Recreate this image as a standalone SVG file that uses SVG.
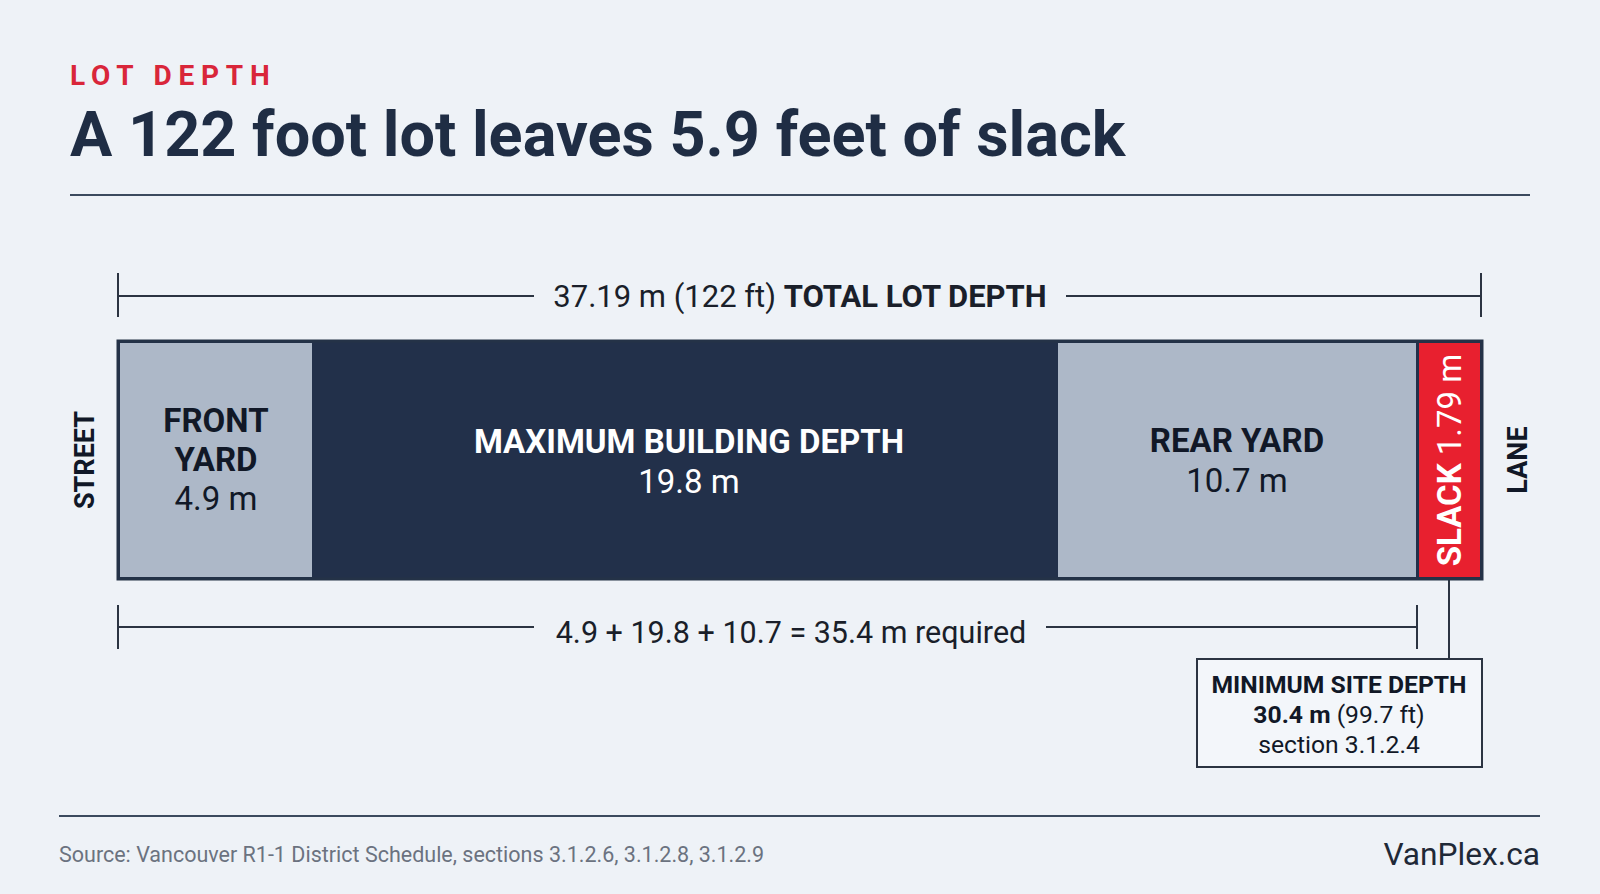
<svg xmlns="http://www.w3.org/2000/svg" width="1600" height="894" viewBox="0 0 1600 894">
  <style>
    text { font-family: Roboto, "Liberation Sans", sans-serif; }
    .kicker { font-size: 28px; font-weight: 700; fill: #d9263a; letter-spacing: 6.8px; }
    .title { font-size: 63px; font-weight: 700; fill: #1f2d44; }
    .dim { font-size: 31px; fill: #1a1f2a; }
    .dim2 { font-size: 30.5px; fill: #1a1f2a; }
    .dimb { font-weight: 700; }
    .lbl { font-size: 33px; text-anchor: middle; }
    .b { font-weight: 700; }
    .dark { fill: #111827; }
    .light { fill: #ffffff; }
    .side { font-size: 27px; font-weight: 700; fill: #111827; text-anchor: middle; }
    .box { font-size: 24.7px; fill: #111827; text-anchor: middle; }
    .src { font-size: 21.5px; fill: #6b7280; }
    .brand { font-size: 31.7px; fill: #1f2937; text-anchor: end; }
    .rule { stroke: #3b4a5e; stroke-width: 2; }
    .dline { stroke: #2b3442; stroke-width: 2; fill: none; }
  </style>
  <rect width="1600" height="894" fill="#eef2f7"/>

  <g id="header">
    <text class="kicker" x="70" y="85">LOT DEPTH</text>
    <text class="title" x="70" y="156">A 122 foot lot leaves 5.9 feet of slack</text>
    <line class="rule" x1="70" y1="195" x2="1530" y2="195"/>
  </g>

  <g id="connectors">
    <path class="dline" d="M118 273 V317 M118 296 H534 M1066 296 H1481 M1481 273 V317"/>
    <path class="dline" d="M118 605 V649 M118 627 H534 M1046 627 H1417 M1417 605 V649"/>
    <line class="dline" x1="1449" y1="579" x2="1449" y2="659"/>
  </g>

  <g id="total-depth-label">
    <text class="dim" x="800" y="307" text-anchor="middle">37.19 m (122 ft) <tspan class="dimb">TOTAL LOT DEPTH</tspan></text>
  </g>

  <g id="lot">
    <rect x="118" y="341" width="1364" height="238" fill="#22304a" stroke="#243247" stroke-width="3"/>
  </g>

  <g id="front-yard">
    <rect x="120" y="343" width="192" height="234" fill="#adb8c8"/>
    <text class="lbl b dark" x="216" y="432">FRONT</text>
    <text class="lbl b dark" x="216" y="471">YARD</text>
    <text class="lbl dark" x="216" y="510">4.9 m</text>
  </g>

  <g id="building">
    <text class="lbl b light" x="689" y="453">MAXIMUM BUILDING DEPTH</text>
    <text class="lbl light" x="689" y="493">19.8 m</text>
  </g>

  <g id="rear-yard">
    <rect x="1058" y="343" width="358" height="234" fill="#adb8c8"/>
    <text class="lbl b dark" x="1237" y="452">REAR YARD</text>
    <text class="lbl dark" x="1237" y="492">10.7 m</text>
  </g>

  <g id="slack">
    <rect x="1419" y="343" width="61" height="234" fill="#e8202f"/>
    <text class="lbl light" transform="translate(1461 460) rotate(-90)" x="0" y="0"><tspan class="b">SLACK</tspan> 1.79 m</text>
  </g>

  <g id="street">
    <text class="side" transform="translate(94 460) rotate(-90)">STREET</text>
  </g>

  <g id="lane">
    <text class="side" transform="translate(1527 460) rotate(-90)">LANE</text>
  </g>

  <g id="required-label">
    <text class="dim2" x="791" y="643" text-anchor="middle">4.9 + 19.8 + 10.7 = 35.4 m required</text>
  </g>

  <g id="min-site-depth">
    <rect x="1197" y="659" width="285" height="108" fill="#f3f6fa" stroke="#2b3442" stroke-width="2"/>
    <text class="box b" x="1339" y="693">MINIMUM SITE DEPTH</text>
    <text class="box" x="1339" y="723"><tspan class="b">30.4 m</tspan> (99.7 ft)</text>
    <text class="box" x="1339" y="753">section 3.1.2.4</text>
  </g>

  <g id="footer">
    <line class="rule" x1="59" y1="816" x2="1540" y2="816"/>
    <text class="src" x="59" y="862">Source: Vancouver R1-1 District Schedule, sections 3.1.2.6, 3.1.2.8, 3.1.2.9</text>
    <text class="brand" x="1540" y="865">VanPlex.ca</text>
  </g>
</svg>
